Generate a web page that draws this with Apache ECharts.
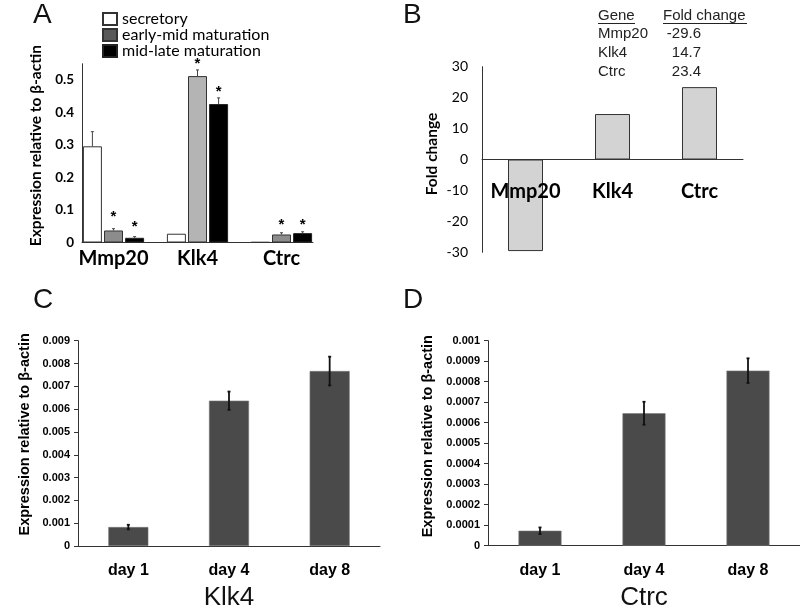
<!DOCTYPE html>
<html>
<head>
<meta charset="utf-8">
<script src="https://cdn.jsdelivr.net/npm/echarts@6/dist/echarts.min.js"></script>
<style>html,body{margin:0;padding:0;background:#fff;}#c{width:800px;height:612px;}</style>
</head>
<body>
<div id="c"></div>
<script>
// ---------- data ----------
const catsA = ['Mmp20', 'Klk4', 'Ctrc'];
const secretory = [0.296, 0.027, 0.001];
const earlyMid = [0.037, 0.512, 0.0247];
const midLate = [0.0145, 0.426, 0.0288];
const secretoryErrTop = [0.341, null, null];
const earlyMidErrTop = [0.0425, 0.531, 0.030];
const midLateErrTop = [0.018, 0.445, 0.033];
const earlyMidStar = [0.0868, 0.559, 0.065];
const midLateStar = [0.057, 0.472, 0.065];
const earlyMidColors = ['#8c8c8c', '#b4b4b4', '#8c8c8c'];

const genesB = ['Mmp20', 'Klk4', 'Ctrc'];
const foldB = [-29.6, 14.7, 23.4];

const daysC = ['day 1', 'day 4', 'day 8'];
const klk4Mean = [0.00083, 0.00637, 0.00767];
const klk4Err = [0.0001, 0.0004, 0.00063];

const daysD = ['day 1', 'day 4', 'day 8'];
const ctrcMean = [0.000073, 0.000646, 0.000854];
const ctrcErr = [0.000016, 0.000056, 0.00006];

// ---------- style constants ----------
const BAR_W_A = 19, GAP_A = 2.1;
const CAL = 'Lato';
const ARIAL = 'Liberation Sans';
const GRID_B_H = 185.6;

const chart = echarts.init(document.getElementById('c'), null, {renderer: 'canvas'});

function errA(seriesVals, tops, si) {
  const out = [];
  tops.forEach((t, i) => { if (t != null) out.push([i, seriesVals[i], t, si]); });
  return out;
}
const errAData = [].concat(errA(secretory, secretoryErrTop, 0), errA(earlyMid, earlyMidErrTop, 1), errA(midLate, midLateErrTop, 2));
const starAData = [].concat(earlyMidStar.map((v, i) => [i, v, 1]), midLateStar.map((v, i) => [i, v, 2]));

function renderErrA(params, api) {
  const cat = api.value(0), si = api.value(3);
  const off = (si - 1) * (BAR_W_A + GAP_A);
  const p0 = api.coord([cat, api.value(1)]);
  const p1 = api.coord([cat, api.value(2)]);
  const x = p0[0] + off;
  return {type: 'group', children: [
    {type: 'line', shape: {x1: x, y1: p0[1], x2: x, y2: p1[1]}, style: {stroke: '#444', lineWidth: 1}},
    {type: 'line', shape: {x1: x - 1.5, y1: p1[1], x2: x + 1.5, y2: p1[1]}, style: {stroke: '#444', lineWidth: 1}}
  ]};
}
function renderStarA(params, api) {
  const cat = api.value(0), si = api.value(2);
  const off = (si - 1) * (BAR_W_A + GAP_A);
  const p = api.coord([cat, api.value(1)]);
  return {type: 'text', x: p[0] + off, y: p[1] + 3, style: {text: '*', font: 'bold 15px ' + ARIAL, textAlign: 'center', textVerticalAlign: 'middle', fill: '#000'}};
}
function makeErr(means, errs) { return means.map((m, i) => [i, m - errs[i], m + errs[i]]); }
function renderErr(params, api) {
  const lo = api.coord([api.value(0), api.value(1)]);
  const hi = api.coord([api.value(0), api.value(2)]);
  const x = lo[0];
  const st = {stroke: '#111', lineWidth: 1.8};
  return {type: 'group', children: [
    {type: 'line', shape: {x1: x, y1: lo[1], x2: x, y2: hi[1]}, style: st},
    {type: 'line', shape: {x1: x - 1.5, y1: lo[1], x2: x + 1.5, y2: lo[1]}, style: st},
    {type: 'line', shape: {x1: x - 1.5, y1: hi[1], x2: x + 1.5, y2: hi[1]}, style: st}
  ]};
}

// table in panel B built from data arrays
const tableGraphics = [
  {type: 'text', x: 598, y: 16, style: {text: 'Gene', font: '15px ' + ARIAL, fill: '#222', textAlign: 'left', textVerticalAlign: 'middle'}},
  {type: 'text', x: 663, y: 16, style: {text: 'Fold change', font: '15px ' + ARIAL, fill: '#222', textAlign: 'left', textVerticalAlign: 'middle'}},
  {type: 'line', shape: {x1: 598, y1: 23.5, x2: 635, y2: 23.5}, style: {stroke: '#222', lineWidth: 1}},
  {type: 'line', shape: {x1: 663, y1: 23.5, x2: 747, y2: 23.5}, style: {stroke: '#222', lineWidth: 1}}
];
genesB.forEach((g, i) => {
  const y = 34 + i * 18.7;
  tableGraphics.push({type: 'text', x: 598, y: y, style: {text: g, font: '15px ' + ARIAL, fill: '#222', textAlign: 'left', textVerticalAlign: 'middle'}});
  tableGraphics.push({type: 'text', x: 701, y: y, style: {text: foldB[i].toFixed(1), font: '15px ' + ARIAL, fill: '#222', textAlign: 'right', textVerticalAlign: 'middle'}});
});

const letter = (t, l, tp) => ({text: t, left: l, top: tp, padding: 0, textStyle: {fontSize: 28, fontWeight: 'normal', fontFamily: ARIAL, color: '#111'}});

const axisLineDark = {show: true, lineStyle: {color: '#333', width: 1}};

const option = {
  animation: false,
  backgroundColor: '#fff',
  title: [letter('A', 33, 1), letter('B', 403, 1), letter('C', 33, 286), letter('D', 403, 286)],
  legend: {
    data: ['secretory', 'early-mid maturation', 'mid-late maturation'],
    orient: 'vertical', left: 97, top: 6, itemWidth: 14, itemHeight: 12, itemGap: 0,
    icon: 'rect', textStyle: {fontFamily: CAL, fontSize: 16, color: '#000'},
    selectedMode: false
  },
  graphic: tableGraphics,
  grid: [
    {left: 71.5, top: 63.75, width: 252, height: 178.75},
    {left: 82, top: 63.75, width: 231, height: 178.75},
    {left: 482, top: 66.7, width: 261, height: GRID_B_H},
    {left: 78, top: 340.7, width: 302, height: 205.3},
    {left: 488, top: 340.7, width: 330, height: 205}
  ],
  xAxis: [
    {type: 'category', gridIndex: 0, data: catsA, axisLine: {show: false}, axisTick: {show: false},
     axisLabel: {interval: 0, margin: 6, fontFamily: CAL, fontWeight: 'bold', fontSize: 20, color: '#000'}},
    {type: 'category', gridIndex: 1, data: catsA, axisLine: axisLineDark, axisTick: {show: false}, axisLabel: {show: false}},
    {type: 'category', gridIndex: 2, data: genesB, z: 10, offset: -GRID_B_H / 2,
     axisLine: {show: true, onZero: false, lineStyle: {color: '#333'}}, axisTick: {show: false},
     axisLabel: {interval: 0, margin: 22, fontFamily: CAL, fontWeight: 'bold', fontSize: 20, color: '#000'}},
    {type: 'category', gridIndex: 3, data: daysC, axisLine: axisLineDark, axisTick: {show: false},
     axisLabel: {interval: 0, margin: 17, fontFamily: ARIAL, fontWeight: 'bold', fontSize: 16, color: '#000'},
     name: 'Klk4', nameLocation: 'middle', nameGap: 39, nameTextStyle: {fontFamily: ARIAL, fontSize: 26, color: '#111'}},
    {type: 'category', gridIndex: 4, data: daysD, axisLine: axisLineDark, axisTick: {show: false},
     axisLabel: {interval: 0, margin: 17, fontFamily: ARIAL, fontWeight: 'bold', fontSize: 16, color: '#000'},
     name: 'Ctrc', nameLocation: 'middle', nameGap: 39, nameTextStyle: {fontFamily: ARIAL, fontSize: 26, color: '#111'}}
  ],
  yAxis: [
    {type: 'value', gridIndex: 0, min: 0, max: 0.55, show: false, splitLine: {show: false}},
    {type: 'value', gridIndex: 1, min: 0, max: 0.55, interval: 0.1, axisLine: axisLineDark, axisTick: {show: false}, splitLine: {show: false},
     axisLabel: {margin: 8, fontFamily: CAL, fontWeight: 'bold', fontSize: 13.5, color: '#000', showMaxLabel: false},
     name: 'Expression relative to β-actin', nameLocation: 'middle', nameGap: 38,
     nameTextStyle: {fontFamily: CAL, fontWeight: 'bold', fontSize: 15.5, color: '#000', padding: [0, 0, 0, 15]}},
    {type: 'value', gridIndex: 2, min: -30, max: 30, interval: 10, axisLine: axisLineDark, axisTick: {show: false}, splitLine: {show: false},
     axisLabel: {margin: 14, fontFamily: CAL, fontSize: 14, color: '#000'},
     name: 'Fold change', nameLocation: 'middle', nameGap: 42,
     nameTextStyle: {fontFamily: CAL, fontWeight: 'bold', fontSize: 15.5, color: '#000', padding: [0, 0, 0, 11]}},
    {type: 'value', gridIndex: 3, min: 0, max: 0.009, interval: 0.001, axisLine: axisLineDark,
     axisTick: {show: true, length: 4, lineStyle: {color: '#333'}}, splitLine: {show: false},
     axisLabel: {margin: 8, fontFamily: ARIAL, fontWeight: 'bold', fontSize: 11, color: '#000'},
     name: 'Expression relative to β-actin', nameLocation: 'middle', nameGap: 46,
     nameTextStyle: {fontFamily: ARIAL, fontWeight: 'bold', fontSize: 14.5, color: '#000', padding: [0, 0, 0, 18]}},
    {type: 'value', gridIndex: 4, min: 0, max: 0.001, interval: 0.0001, axisLine: axisLineDark,
     axisTick: {show: true, length: 4, lineStyle: {color: '#333'}}, splitLine: {show: false},
     axisLabel: {margin: 8, fontFamily: ARIAL, fontWeight: 'bold', fontSize: 11, color: '#000'},
     name: 'Expression relative to β-actin', nameLocation: 'middle', nameGap: 53,
     nameTextStyle: {fontFamily: ARIAL, fontWeight: 'bold', fontSize: 14.5, color: '#000', padding: [0, 0, 0, 14]}}
  ],
  series: [
    {name: 'secretory', type: 'bar', xAxisIndex: 0, yAxisIndex: 0, barWidth: BAR_W_A, barGap: (GAP_A / BAR_W_A * 100) + '%',
     data: secretory, itemStyle: {color: '#fff', borderColor: '#333', borderWidth: 1}},
    {name: 'early-mid maturation', type: 'bar', xAxisIndex: 0, yAxisIndex: 0, barWidth: BAR_W_A,
     data: earlyMid.map((v, i) => ({value: v, itemStyle: {color: earlyMidColors[i]}})),
     itemStyle: {color: '#595959', borderColor: '#333', borderWidth: 1}},
    {name: 'mid-late maturation', type: 'bar', xAxisIndex: 0, yAxisIndex: 0, barWidth: BAR_W_A,
     data: midLate, itemStyle: {color: '#000', borderColor: '#222', borderWidth: 1}},
    {name: 'errA', type: 'custom', xAxisIndex: 0, yAxisIndex: 0, renderItem: renderErrA, data: errAData, z: 5},
    {name: 'starA', type: 'custom', xAxisIndex: 0, yAxisIndex: 0, renderItem: renderStarA, data: starAData, z: 5, clip: false},
    {name: 'fold', type: 'bar', xAxisIndex: 2, yAxisIndex: 2, barWidth: 35, data: foldB,
     itemStyle: {color: '#d3d3d3', borderColor: '#333', borderWidth: 1}},
    {name: 'Klk4', type: 'bar', xAxisIndex: 3, yAxisIndex: 3, barWidth: 40, data: klk4Mean,
     itemStyle: {color: '#4a4a4a', borderColor: '#777', borderWidth: 0.6}},
    {name: 'errC', type: 'custom', xAxisIndex: 3, yAxisIndex: 3, renderItem: renderErr, data: makeErr(klk4Mean, klk4Err), z: 5},
    {name: 'Ctrc', type: 'bar', xAxisIndex: 4, yAxisIndex: 4, barWidth: 43, data: ctrcMean,
     itemStyle: {color: '#4a4a4a', borderColor: '#777', borderWidth: 0.6}},
    {name: 'errD', type: 'custom', xAxisIndex: 4, yAxisIndex: 4, renderItem: renderErr, data: makeErr(ctrcMean, ctrcErr), z: 5}
  ]
};
chart.setOption(option);
</script>
</body>
</html>
